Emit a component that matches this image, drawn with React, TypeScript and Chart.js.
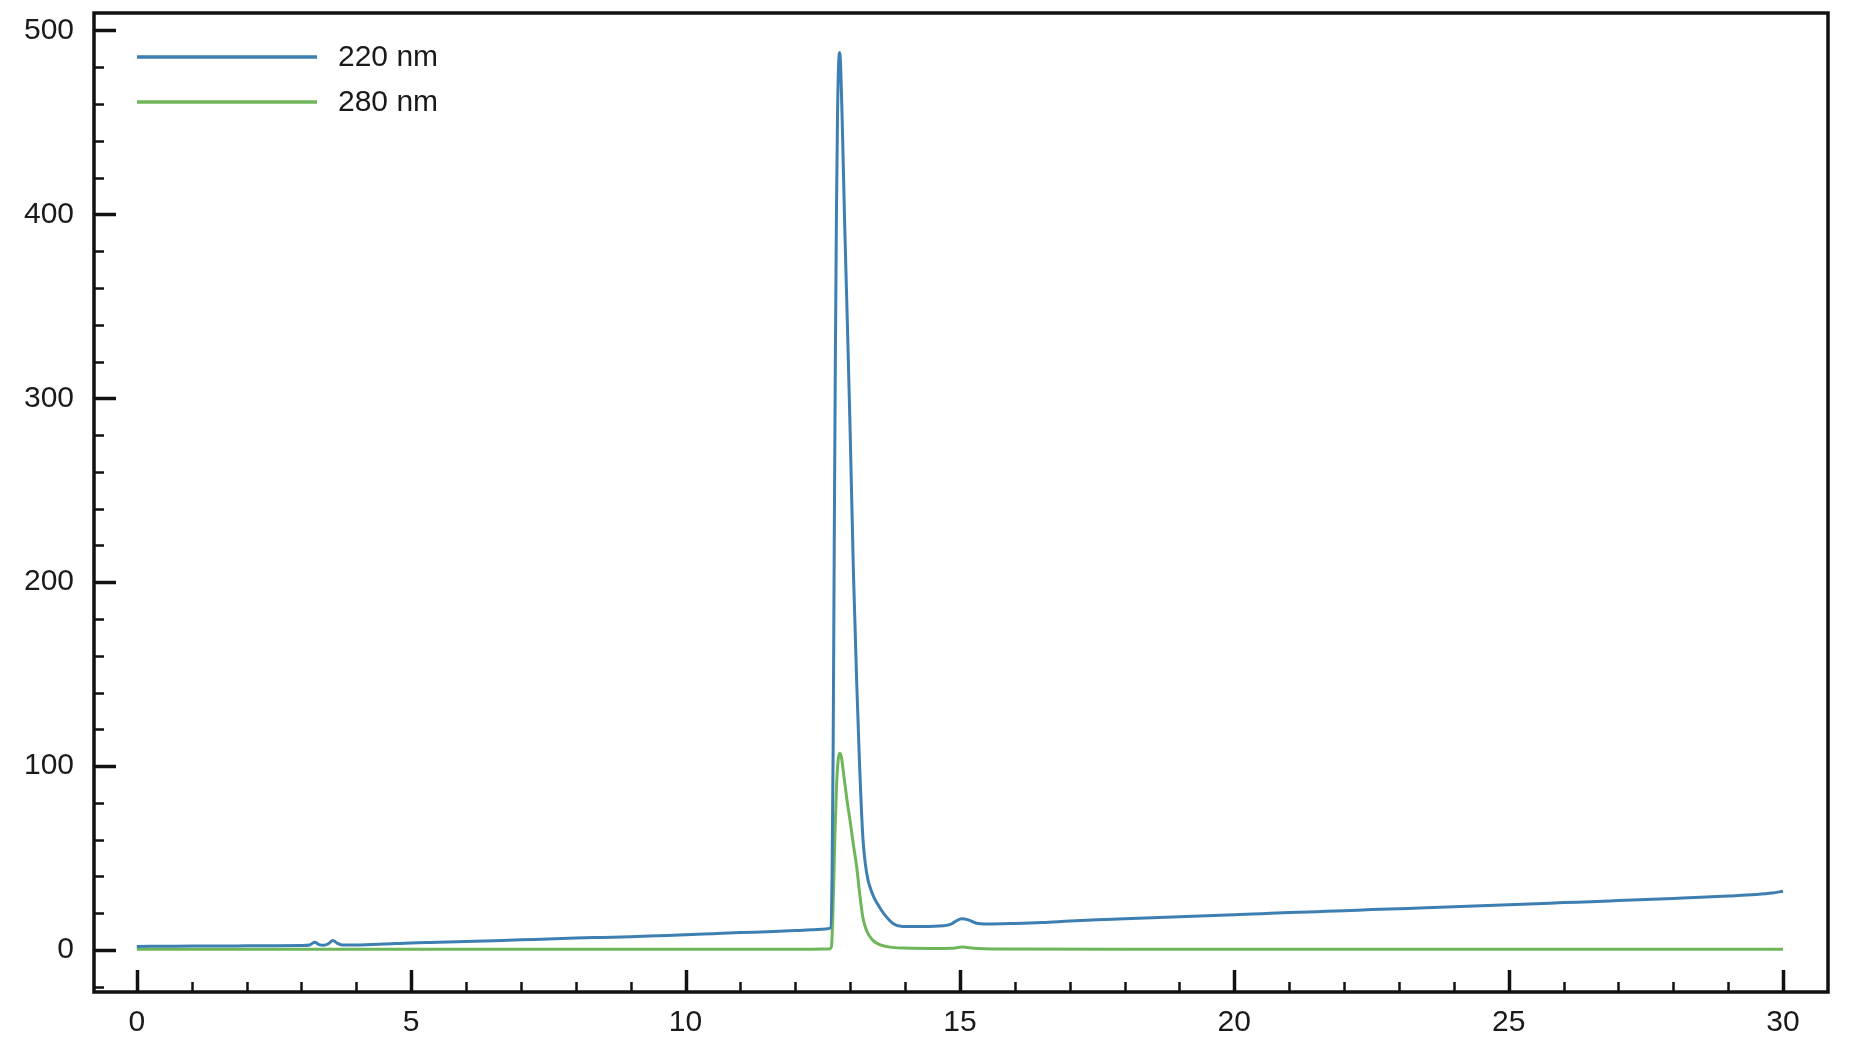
import React, { useEffect, useRef } from "react";
import { Chart, registerables } from "chart.js";

Chart.register(...registerables);

// ---- Data ----
const seriesLabels = ["220 nm", "280 nm"];
const seriesColors = ["#3d7fb2", "#6fb65a"];

const blueTime = [0, 0.5, 1, 1.5, 2, 2.5, 3, 3.15, 3.24, 3.32, 3.4, 3.5, 3.57, 3.65, 3.75, 4, 4.5, 5, 5.5, 6, 6.5, 7, 7.5, 8, 8.5, 9, 9.5, 10, 10.5, 11, 11.5, 12, 12.3, 12.55, 12.64, 12.67, 12.69, 12.71, 12.73, 12.75, 12.77, 12.79, 12.81, 12.83, 12.86, 12.9, 12.95, 13.0, 13.06, 13.12, 13.17, 13.23, 13.3, 13.4, 13.5, 13.62, 13.78, 13.95, 14.3, 14.7, 14.85, 14.95, 15.04, 15.15, 15.3, 15.5, 16, 16.5, 17, 17.5, 18, 18.5, 19, 19.5, 20, 20.5, 21, 21.5, 22, 22.5, 23, 23.5, 24, 24.5, 25, 25.5, 26, 26.5, 27, 27.5, 28, 28.5, 29, 29.5, 29.8, 30];
const blueAbs = [2.0, 2.1, 2.2, 2.2, 2.3, 2.4, 2.5, 2.8, 4.2, 3.0, 2.6, 3.6, 5.2, 3.8, 2.7, 2.8, 3.3, 3.9, 4.2, 4.6, 5.1, 5.6, 6.0, 6.5, 6.9, 7.3, 7.8, 8.3, 8.9, 9.5, 10.0, 10.6, 11.0, 11.5, 12.0, 40, 110, 220, 320, 400, 455, 482, 488, 478, 445, 395, 340, 282, 205, 145, 102, 62, 42, 31, 25, 19.5, 14.5, 12.8, 12.8, 13.2, 14.3, 16.2, 17.0, 16.4, 14.6, 14.2, 14.5, 15.0, 15.8, 16.5, 17.0, 17.6, 18.1, 18.7, 19.2, 19.8, 20.4, 20.9, 21.4, 22.0, 22.5, 23.0, 23.6, 24.1, 24.7, 25.2, 25.8, 26.3, 26.9, 27.5, 28.1, 28.7, 29.4, 30.2, 31.0, 32.0];

const greenTime = [0, 5, 10, 12.3, 12.62, 12.66, 12.69, 12.72, 12.75, 12.78, 12.81, 12.84, 12.88, 12.94, 13.0, 13.06, 13.12, 13.18, 13.23, 13.3, 13.41, 13.55, 13.72, 14.0, 14.5, 14.85, 15.04, 15.25, 15.6, 20, 25, 30];
const greenAbs = [0.4, 0.4, 0.4, 0.5, 0.6, 2, 25, 60, 88, 103, 107, 105, 96, 82, 70, 57, 45, 29, 18, 10.5, 5.4, 2.8, 1.6, 1.1, 0.9, 1.0, 1.6, 1.0, 0.6, 0.5, 0.5, 0.5];

const xMajorTicks = [0, 5, 10, 15, 20, 25, 30];
const xMinorTicks = [1, 2, 3, 4, 6, 7, 8, 9, 11, 12, 13, 14, 16, 17, 18, 19, 21, 22, 23, 24, 26, 27, 28, 29];
const yMajorTicks = [0, 100, 200, 300, 400, 500];
const yMinorTicks = [-20, 20, 40, 60, 80, 120, 140, 160, 180, 220, 240, 260, 280, 320, 340, 360, 380, 420, 440, 460, 480];

const X_MIN = -0.78;
const X_MAX = 30.82;
const Y_MIN = -22.8;
const Y_MAX = 509.5;

const FONT_FAMILY = "'Liberation Sans', Arial, Helvetica, sans-serif";
const FONT_SIZE = 30;
const TEXT_COLOR = "#1a1a1a";

const framePlugin = {
  id: "framePlugin",
  afterDraw(chart: any) {
    const { ctx, chartArea } = chart;
    const xs = chart.scales.x;
    const ys = chart.scales.y;
    const { left, right, top, bottom } = chartArea;
    ctx.save();
    ctx.strokeStyle = "#111";
    ctx.lineCap = "butt";
    const drawX = (vals: number[], len: number, w: number) => {
      ctx.lineWidth = w;
      vals.forEach((v) => {
        const px = Math.round(xs.getPixelForValue(v)) + 0.5;
        ctx.beginPath();
        ctx.moveTo(px, bottom);
        ctx.lineTo(px, bottom - len);
        ctx.stroke();
      });
    };
    const drawY = (vals: number[], len: number, w: number) => {
      ctx.lineWidth = w;
      vals.forEach((v) => {
        const py = Math.round(ys.getPixelForValue(v)) + 0.5;
        ctx.beginPath();
        ctx.moveTo(left, py);
        ctx.lineTo(left + len, py);
        ctx.stroke();
      });
    };
    drawX(xMajorTicks, 22, 3.5);
    drawX(xMinorTicks, 10, 2.5);
    drawY(yMajorTicks, 22, 3.5);
    drawY(yMinorTicks, 10, 2.5);
    ctx.lineWidth = 3.5;
    ctx.strokeRect(left, top, right - left, bottom - top);

    // legend
    const datasets = chart.data.datasets;
    const lx0 = left + 43;
    const lx1 = left + 223;
    const tx = left + 244;
    const rowY = [top + 44, top + 89];
    ctx.font = `${FONT_SIZE}px ${FONT_FAMILY}`;
    ctx.textBaseline = "middle";
    ctx.textAlign = "left";
    datasets.forEach((ds: any, i: number) => {
      ctx.strokeStyle = ds.borderColor;
      ctx.lineWidth = 3.5;
      ctx.beginPath();
      ctx.moveTo(lx0, rowY[i]);
      ctx.lineTo(lx1, rowY[i]);
      ctx.stroke();
      ctx.fillStyle = TEXT_COLOR;
      ctx.fillText(ds.label, tx, rowY[i] + 1);
    });
    ctx.restore();
  },
};

export default function App() {
  const canvasRef = useRef<HTMLCanvasElement | null>(null);

  useEffect(() => {
    if (!canvasRef.current) return;
    const chart = new Chart(canvasRef.current, {
      type: "line",
      data: {
        datasets: [
          {
            label: seriesLabels[0],
            data: blueTime.map((t, i) => ({ x: t, y: blueAbs[i] })),
            borderColor: seriesColors[0],
            backgroundColor: seriesColors[0],
            borderWidth: 3,
            pointRadius: 0,
            cubicInterpolationMode: "monotone",
          },
          {
            label: seriesLabels[1],
            data: greenTime.map((t, i) => ({ x: t, y: greenAbs[i] })),
            borderColor: seriesColors[1],
            backgroundColor: seriesColors[1],
            borderWidth: 3,
            pointRadius: 0,
            cubicInterpolationMode: "monotone",
          },
        ],
      },
      options: {
        responsive: false,
        animation: false,
        devicePixelRatio: 1,
        layout: { padding: { left: 0, top: 13, right: 24, bottom: 0 } },
        plugins: {
          legend: { display: false },
          tooltip: { enabled: false },
        },
        scales: {
          x: {
            type: "linear",
            min: X_MIN,
            max: X_MAX,
            grid: { display: false, drawTicks: false },
            border: { display: false },
            afterBuildTicks: (scale: any) => {
              scale.ticks = xMajorTicks.map((v) => ({ value: v }));
            },
            afterFit: (scale: any) => {
              scale.height = 60;
              scale.paddingLeft = 0;
              scale.paddingRight = 0;
            },
            ticks: {
              padding: 13,
              color: TEXT_COLOR,
              font: { family: FONT_FAMILY, size: FONT_SIZE },
              maxRotation: 0,
              autoSkip: false,
            },
          },
          y: {
            type: "linear",
            min: Y_MIN,
            max: Y_MAX,
            grid: { display: false, drawTicks: false },
            border: { display: false },
            afterBuildTicks: (scale: any) => {
              scale.ticks = yMajorTicks.map((v) => ({ value: v }));
            },
            afterFit: (scale: any) => {
              scale.width = 94;
              scale.paddingTop = 0;
              scale.paddingBottom = 0;
            },
            ticks: {
              padding: 20,
              color: TEXT_COLOR,
              font: { family: FONT_FAMILY, size: FONT_SIZE },
              autoSkip: false,
            },
          },
        },
      },
      plugins: [framePlugin],
    } as any);
    return () => chart.destroy();
  }, []);

  return (
    <div style={{ position: "absolute", left: 0, top: 0, width: 1852, height: 1052, background: "#fff" }}>
      <canvas ref={canvasRef} width={1852} height={1052} style={{ display: "block", width: 1852, height: 1052 }} />
    </div>
  );
}
